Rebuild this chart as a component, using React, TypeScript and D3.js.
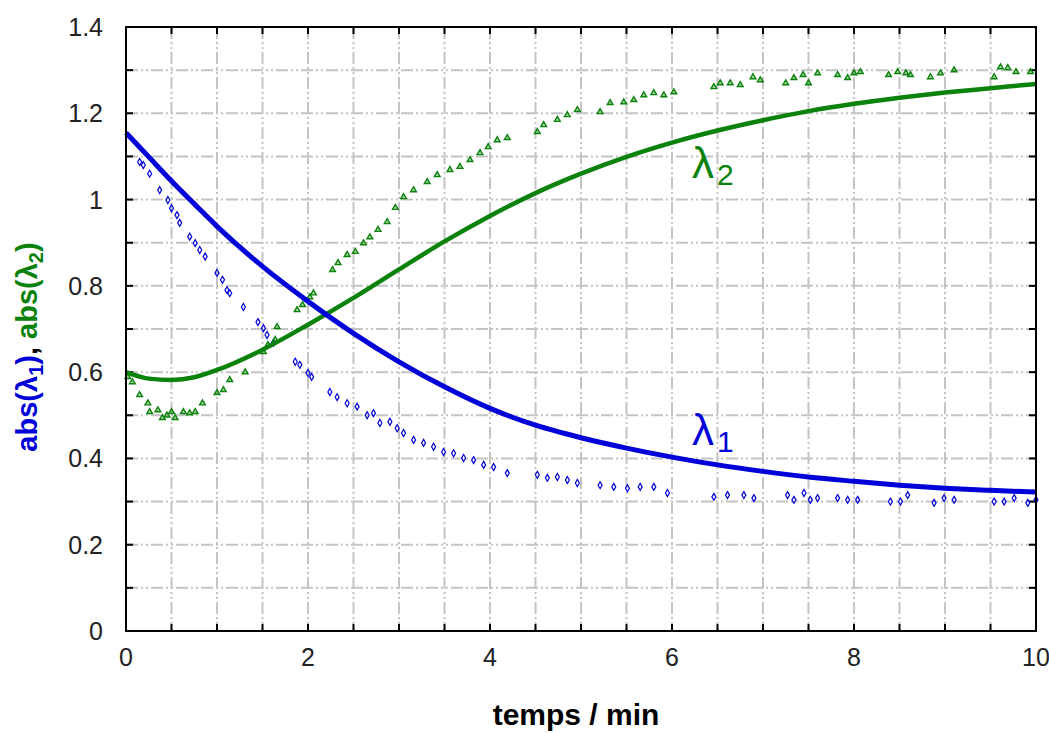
import * as d3 from "d3";

const W = 1049;
const H = 733;
const M = { left: 126, right: 1036, top: 27, bottom: 631 };

// fitted curves (min, abs)
const fitX = [0, 0.25, 0.5, 0.75, 1, 1.5, 2, 2.5, 3, 3.5, 4, 4.5, 5, 5.5, 6, 6.5, 7, 7.5, 8, 8.5, 9, 9.5, 10];
const fitL1 = [1.155, 1.099, 1.043, 0.99, 0.938, 0.845, 0.764, 0.69, 0.624, 0.566, 0.516, 0.477, 0.448, 0.424, 0.403, 0.385, 0.37, 0.357, 0.347, 0.338, 0.331, 0.326, 0.322];
const fitL2 = [0.6, 0.585, 0.582, 0.588, 0.605, 0.652, 0.71, 0.772, 0.838, 0.903, 0.962, 1.015, 1.06, 1.099, 1.132, 1.16, 1.184, 1.205, 1.222, 1.236, 1.248, 1.258, 1.268];

// measured points lambda 1
const l1X = [0.15, 0.19, 0.26, 0.37, 0.46, 0.5, 0.56, 0.59, 0.7, 0.76, 0.81, 0.87, 1.0, 1.06, 1.11, 1.14, 1.29, 1.45, 1.51, 1.55, 1.62, 1.86, 1.91, 2.0, 2.04, 2.24, 2.32, 2.43, 2.54, 2.65, 2.72, 2.79, 2.9, 2.98, 3.05, 3.16, 3.27, 3.38, 3.49, 3.6, 3.71, 3.82, 3.93, 4.04, 4.19, 4.52, 4.63, 4.74, 4.85, 4.96, 5.21, 5.36, 5.51, 5.65, 5.8, 5.95, 6.46, 6.61, 6.79, 6.9, 7.27, 7.34, 7.45, 7.52, 7.6, 7.82, 7.93, 8.04, 8.4, 8.51, 8.59, 8.88, 8.99, 9.1, 9.54, 9.65, 9.76, 9.91, 10.0];
const l1Y = [1.087, 1.08, 1.06, 1.022, 0.999, 0.98, 0.964, 0.946, 0.914, 0.899, 0.883, 0.868, 0.83, 0.814, 0.79, 0.783, 0.751, 0.716, 0.702, 0.686, 0.668, 0.624, 0.617, 0.598, 0.589, 0.554, 0.542, 0.528, 0.52, 0.5, 0.505, 0.482, 0.485, 0.47, 0.459, 0.443, 0.436, 0.427, 0.415, 0.412, 0.401, 0.396, 0.385, 0.38, 0.366, 0.362, 0.355, 0.357, 0.35, 0.343, 0.338, 0.334, 0.331, 0.334, 0.334, 0.32, 0.311, 0.315, 0.315, 0.308, 0.315, 0.304, 0.32, 0.304, 0.308, 0.308, 0.304, 0.304, 0.3, 0.3, 0.315, 0.297, 0.308, 0.304, 0.3, 0.3, 0.308, 0.297, 0.304];

// measured points lambda 2
const l2X = [0.02, 0.07, 0.15, 0.24, 0.26, 0.35, 0.4, 0.45, 0.5, 0.54, 0.63, 0.7, 0.76, 0.84, 1.0, 1.07, 1.14, 1.31, 1.51, 1.56, 1.64, 1.66, 1.88, 1.94, 2.02, 2.06, 2.27, 2.33, 2.43, 2.52, 2.61, 2.68, 2.77, 2.87, 2.96, 3.05, 3.16, 3.31, 3.42, 3.56, 3.67, 3.78, 3.89, 3.98, 4.08, 4.19, 4.52, 4.59, 4.74, 4.85, 4.96, 5.21, 5.32, 5.47, 5.58, 5.69, 5.8, 5.91, 6.02, 6.46, 6.53, 6.64, 6.75, 6.89, 6.97, 7.25, 7.34, 7.44, 7.5, 7.6, 7.82, 7.93, 8.0, 8.07, 8.38, 8.48, 8.57, 8.62, 8.84, 8.95, 9.1, 9.54, 9.61, 9.69, 9.78, 9.94];
const l2Y = [0.589, 0.577, 0.547, 0.528, 0.508, 0.512, 0.494, 0.5, 0.508, 0.494, 0.508, 0.505, 0.508, 0.528, 0.552, 0.559, 0.582, 0.6, 0.647, 0.663, 0.675, 0.705, 0.744, 0.756, 0.774, 0.783, 0.837, 0.853, 0.872, 0.879, 0.899, 0.913, 0.93, 0.948, 0.981, 1.006, 1.022, 1.041, 1.057, 1.069, 1.076, 1.092, 1.108, 1.122, 1.138, 1.143, 1.157, 1.173, 1.185, 1.196, 1.208, 1.203, 1.224, 1.226, 1.231, 1.242, 1.247, 1.242, 1.249, 1.261, 1.27, 1.27, 1.266, 1.284, 1.277, 1.27, 1.282, 1.289, 1.27, 1.293, 1.289, 1.282, 1.293, 1.296, 1.289, 1.296, 1.293, 1.289, 1.284, 1.293, 1.3, 1.284, 1.307, 1.305, 1.296, 1.296];

const xLabels = [0, 2, 4, 6, 8, 10];
const yLabels = [0, 0.2, 0.4, 0.6, 0.8, 1, 1.2, 1.4];

const BLUE = "#0000d8";
const GREEN = "#0b820b";
const GRID = "#c4c4c4";
const FONT = "'Liberation Sans', Arial, sans-serif";

export default function App() {
  const x = d3.scaleLinear().domain([0, 10]).range([M.left, M.right]);
  const y = d3.scaleLinear().domain([0, 1.4]).range([M.bottom, M.top]);

  const xGrid = d3.range(0, 10.01, 0.5);
  const yGrid = d3.range(0, 1.401, 0.1);

  const line = (ys: number[]) =>
    d3
      .line<number>()
      .x((d) => x(d))
      .y((_, i) => y(ys[i]))
      .curve(d3.curveMonotoneX)(fitX) || "";

  const tri = d3.symbol().type(d3.symbolTriangle).size(14)() || "";
  const dia = d3.symbol().type(d3.symbolDiamond).size(14)() || "";

  return (
    <svg
      width={W}
      height={H}
      style={{ position: "absolute", left: 0, top: 0, background: "#fff" }}
      fontFamily={FONT}
    >
      {/* grid */}
      <g stroke={GRID} strokeWidth={2} strokeDasharray="12,3,2,3,2,3">
        {xGrid.slice(1, -1).map((v) => (
          <line key={"gx" + v} x1={x(v)} x2={x(v)} y1={M.top} y2={M.bottom} />
        ))}
        {yGrid.slice(1, -1).map((v) => (
          <line key={"gy" + v} x1={M.left} x2={M.right} y1={y(v)} y2={y(v)} />
        ))}
      </g>

      {/* ticks, inward on all sides */}
      <g stroke="#000" strokeWidth={2}>
        {xGrid.map((v) => (
          <g key={"tx" + v}>
            <line x1={x(v)} x2={x(v)} y1={M.bottom} y2={M.bottom - 7} />
            <line x1={x(v)} x2={x(v)} y1={M.top} y2={M.top + 7} />
          </g>
        ))}
        {yGrid.map((v) => (
          <g key={"ty" + v}>
            <line x1={M.left} x2={M.left + 7} y1={y(v)} y2={y(v)} />
            <line x1={M.right} x2={M.right - 7} y1={y(v)} y2={y(v)} />
          </g>
        ))}
      </g>

      {/* measured points */}
      <g fill="none" stroke={BLUE} strokeWidth={1.2}>
        {l1X.map((v, i) => (
          <path key={"p1" + i} d={dia} transform={`translate(${x(v)},${y(l1Y[i])})`} />
        ))}
      </g>
      <g fill={GREEN} fillOpacity={0.35} stroke={GREEN} strokeWidth={1.4}>
        {l2X.map((v, i) => (
          <path key={"p2" + i} d={tri} transform={`translate(${x(v)},${y(l2Y[i])})`} />
        ))}
      </g>

      {/* fitted curves */}
      <path d={line(fitL2)} fill="none" stroke={GREEN} strokeWidth={4.5} />
      <path d={line(fitL1)} fill="none" stroke={BLUE} strokeWidth={5} />

      {/* frame */}
      <rect
        x={M.left}
        y={M.top}
        width={M.right - M.left}
        height={M.bottom - M.top}
        fill="none"
        stroke="#000"
        strokeWidth={2}
      />

      {/* tick labels */}
      <g fontSize={25} fill="#222">
        {xLabels.map((v) => (
          <text key={"lx" + v} x={x(v)} y={M.bottom + 35} textAnchor="middle">
            {v}
          </text>
        ))}
        {yLabels.map((v) => (
          <text key={"ly" + v} x={103} y={y(v) + 9} textAnchor="end">
            {v}
          </text>
        ))}
      </g>

      {/* curve labels */}
      <text x={692} y={445} fill={BLUE} fontSize={44}>
        λ<tspan fontSize={30} dy={7} dx={3}>1</tspan>
      </text>
      <text x={692} y={178} fill={GREEN} fontSize={44}>
        λ<tspan fontSize={30} dy={7} dx={3}>2</tspan>
      </text>

      {/* axis titles */}
      <text x={576} y={725} textAnchor="middle" fontSize={30} fontWeight="bold" fill="#000">
        temps / min
      </text>
      <text
        transform="translate(37,347) rotate(-90)"
        textAnchor="middle"
        fontSize={29}
        fontWeight="bold"
      >
        <tspan fill={BLUE}>abs(λ</tspan>
        <tspan fill={BLUE} fontSize={20} dy={6}>1</tspan>
        <tspan fill={BLUE} dy={-6}>)</tspan>
        <tspan fill="#000">, </tspan>
        <tspan fill={GREEN}>abs(λ</tspan>
        <tspan fill={GREEN} fontSize={20} dy={6}>2</tspan>
        <tspan fill={GREEN} dy={-6}>)</tspan>
      </text>
    </svg>
  );
}
